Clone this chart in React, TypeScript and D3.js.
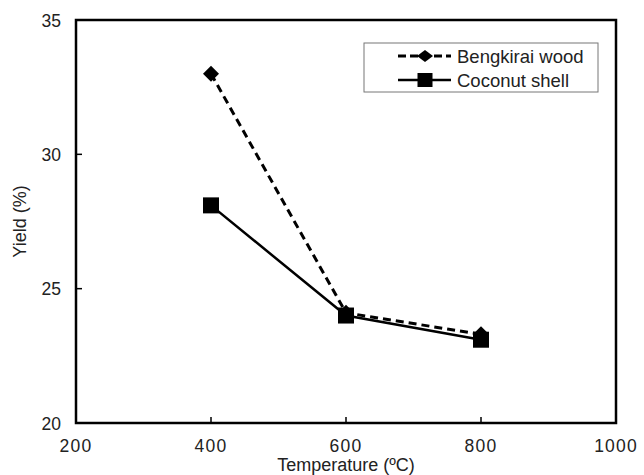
import React from "react";
import * as d3 from "d3";

const temperatures = [400, 600, 800];
const bengkirai = [33.0, 24.1, 23.3];
const coconut = [28.1, 24.0, 23.1];
const xTicks = [200, 400, 600, 800, 1000];
const yTicks = [20, 25, 30, 35];
const seriesNames = ["Bengkirai wood", "Coconut shell"];

export default function App() {
  const W = 644, H = 475;
  const left = 76, right = 616, top = 20, bottom = 423;
  const x = d3.scaleLinear().domain([200, 1000]).range([left, right]);
  const y = d3.scaleLinear().domain([20, 35]).range([bottom, top]);
  const line = d3.line<number>().x((_, i) => x(temperatures[i])).y((d) => y(d));
  const font = "Liberation Sans, Arial, Helvetica, sans-serif";
  const diamond = (cx: number, cy: number, rx: number, ry: number) =>
    `M${cx},${cy - ry}L${cx + rx},${cy}L${cx},${cy + ry}L${cx - rx},${cy}Z`;

  return (
    <svg width={W} height={H} style={{ position: "absolute", left: 0, top: 0 }} fontFamily={font}>
      <rect x={0} y={0} width={W} height={H} fill="#fff" />
      {/* frame */}
      <rect x={left} y={top} width={right - left} height={bottom - top} fill="none" stroke="#000" strokeWidth={2.5} />
      {/* ticks */}
      {xTicks.map((t) => (
        <g key={"x" + t}>
          {t > 200 && t < 1000 && (
            <line x1={x(t)} x2={x(t)} y1={bottom} y2={bottom - 6} stroke="#000" strokeWidth={1.5} />
          )}
          <text x={x(t)} y={452} textAnchor="middle" fontSize={17.5} fill="#222" letterSpacing={1.2}>
            {t}
          </text>
        </g>
      ))}
      {yTicks.map((t) => (
        <g key={"y" + t}>
          {t > 20 && t < 35 && (
            <line x1={left} x2={left + 6} y1={y(t)} y2={y(t)} stroke="#000" strokeWidth={1.5} />
          )}
          <text x={61} y={y(t) + 6.5} textAnchor="end" fontSize={17.5} fill="#222">
            {t}
          </text>
        </g>
      ))}
      <text x={(left + right) / 2} y={471} textAnchor="middle" fontSize={18} fill="#222">
        Temperature (ºC)
      </text>
      <text
        transform={`translate(26,${(top + bottom) / 2}) rotate(-90)`}
        textAnchor="middle"
        fontSize={18}
        fill="#222"
      >
        Yield (%)
      </text>
      {/* series */}
      <path d={line(coconut) || ""} fill="none" stroke="#000" strokeWidth={2.5} />
      <path d={line(bengkirai) || ""} fill="none" stroke="#000" strokeWidth={3} strokeDasharray="8,5" />
      {coconut.map((v, i) => (
        <rect key={"c" + i} x={x(temperatures[i]) - 8} y={y(v) - 8} width={16} height={16} fill="#000" />
      ))}
      {bengkirai.map((v, i) => (
        <path key={"b" + i} d={diamond(x(temperatures[i]), y(v), 8, 8)} fill="#000" />
      ))}
      {/* legend */}
      <rect x={364} y={43} width={234} height={49} fill="#fff" stroke="#777" strokeWidth={1} />
      <line x1={398} x2={451} y1={56} y2={56} stroke="#000" strokeWidth={3} strokeDasharray="8,4" />
      <path d={diamond(425, 56, 8, 6)} fill="#000" />
      <text x={457} y={62.5} fontSize={18.5} fill="#222">{seriesNames[0]}</text>
      <line x1={398} x2={451} y1={80} y2={80} stroke="#000" strokeWidth={2.5} />
      <rect x={417.5} y={73} width={15} height={14} fill="#000" />
      <text x={457} y={86.5} fontSize={18.5} fill="#222">{seriesNames[1]}</text>
    </svg>
  );
}
